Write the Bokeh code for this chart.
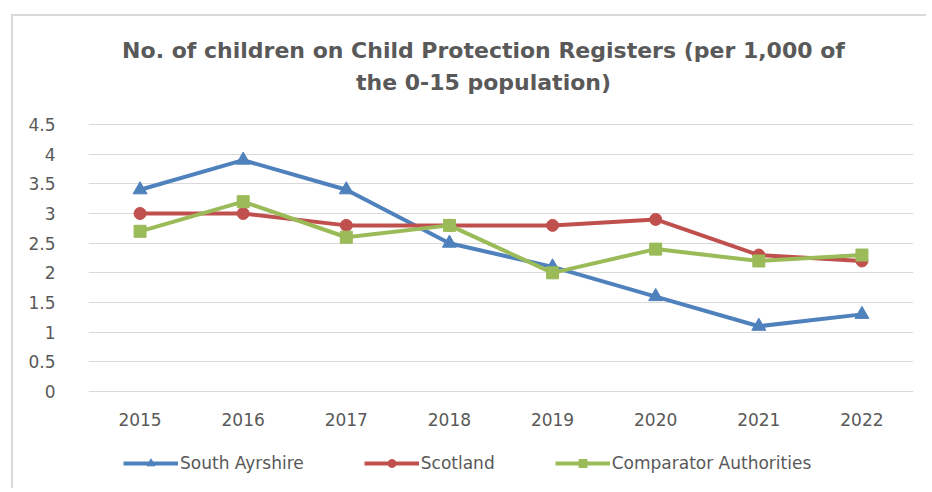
from bokeh.plotting import figure
from bokeh.models import Legend, LegendItem, Label, Range1d, CategoricalAxis
from bokeh.embed import file_html
from bokeh.resources import INLINE

years = ["2015", "2016", "2017", "2018", "2019", "2020", "2021", "2022"]
south_ayrshire = [3.4, 3.9, 3.4, 2.5, 2.1, 1.6, 1.1, 1.3]
scotland = [3.0, 3.0, 2.8, 2.8, 2.8, 2.9, 2.3, 2.2]
comparator = [2.7, 3.2, 2.6, 2.8, 2.0, 2.4, 2.2, 2.3]
y_ticks = [0, 0.5, 1, 1.5, 2, 2.5, 3, 3.5, 4, 4.5]
title_lines = ["No. of children on Child Protection Registers (per 1,000 of", "the 0-15 population)"]

FONT = "DejaVu Sans"
GREY = "#595959"

p = figure(x_range=years, y_range=Range1d(-1.635, 6.287), width=915, height=474,
           output_backend="svg", toolbar_location=None, x_axis_location=None,
           min_border_left=75, min_border_right=15, min_border_top=2, min_border_bottom=2,
           margin=(14, 0, 0, 11))
p.styles = {"border-top": "2px solid #d9d9d9", "border-left": "2px solid #d9d9d9"}
p.outline_line_color = None

xaxis = CategoricalAxis(fixed_location=0)
p.add_layout(xaxis, "below")

p.xgrid.grid_line_color = None
p.ygrid.grid_line_color = "#d9d9d9"
p.ygrid.grid_line_width = 1
p.yaxis.ticker = y_ticks
for ax in (xaxis, p.yaxis[0]):
    ax.axis_line_color = None
    ax.major_tick_line_color = None
    ax.minor_tick_line_color = None
    ax.major_label_text_font = FONT
    ax.major_label_text_font_size = "17px"
    ax.major_label_text_color = GREY
p.yaxis.major_label_standoff = 27
xaxis.major_label_standoff = 16
p.x_range.range_padding = 0
p.ygrid.ticker = y_ticks

for i, txt in enumerate(title_lines):
    p.add_layout(Label(x=395, y=438 - 32 * i, x_units="screen", y_units="screen", text=txt,
                       text_align="center", text_baseline="middle", text_font=FONT,
                       text_font_size="22px", text_font_style="bold", text_color=GREY))

c_blue, c_red, c_green = "#4f81bd", "#c0504d", "#9bbb59"
l1 = p.line(years, south_ayrshire, line_color=c_blue, line_width=4)
m1 = p.scatter(years, south_ayrshire, marker="triangle", size=14, fill_color=c_blue, line_color=c_blue)
l2 = p.line(years, scotland, line_color=c_red, line_width=4)
m2 = p.scatter(years, scotland, marker="circle", size=12, fill_color=c_red, line_color=c_red)
l3 = p.line(years, comparator, line_color=c_green, line_width=4)
m3 = p.scatter(years, comparator, marker="square", size=12, fill_color=c_green, line_color=c_green)

legend = Legend(items=[LegendItem(label="South Ayrshire", renderers=[l1, m1]),
                       LegendItem(label="Scotland", renderers=[l2, m2]),
                       LegendItem(label="Comparator Authorities", renderers=[l3, m3])],
                orientation="horizontal", location=(35, 15))
legend.border_line_color = None
legend.background_fill_alpha = 0
legend.label_text_font = FONT
legend.label_text_font_size = "17px"
legend.label_text_color = GREY
legend.glyph_width = 55
legend.glyph_height = 20
legend.label_standoff = 2
legend.spacing = 60
legend.margin = 0
legend.padding = 0
p.add_layout(legend)

open("out.html", "w").write(file_html(p, INLINE))
